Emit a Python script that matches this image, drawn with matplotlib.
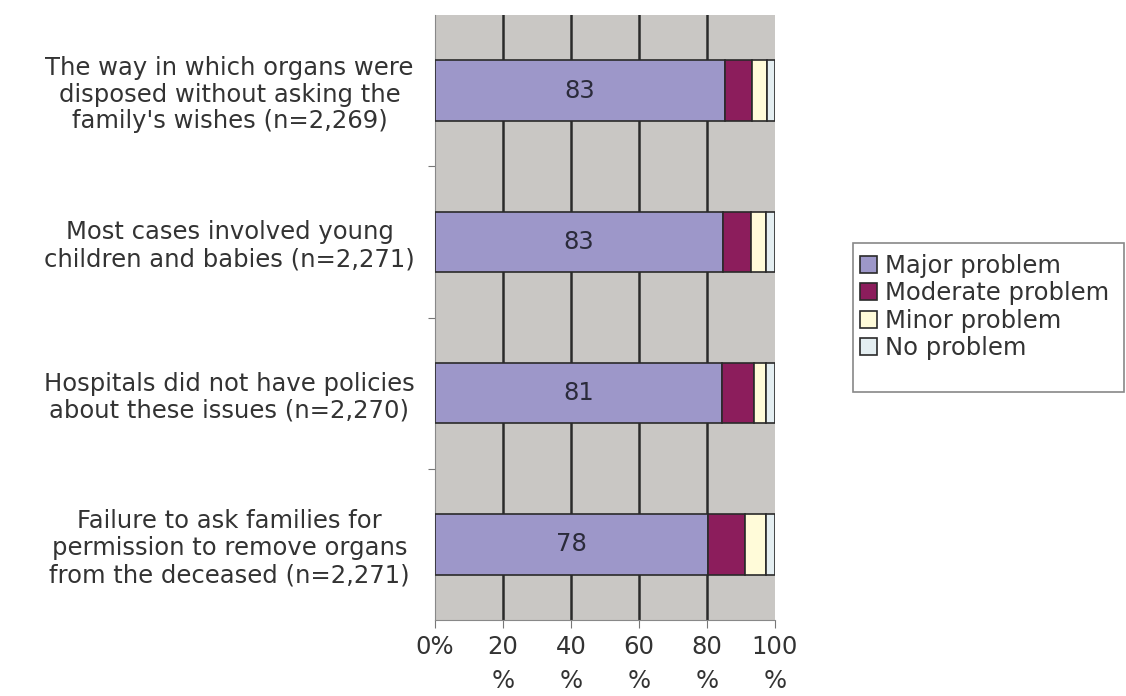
import matplotlib
matplotlib.use("Agg")
import matplotlib.pyplot as plt
from matplotlib.patches import Rectangle
import numpy as np

categories = [
    "The way in which organs were\ndisposed without asking the\nfamily's wishes (n=2,269)",
    "Most cases involved young\nchildren and babies (n=2,271)",
    "Hospitals did not have policies\nabout these issues (n=2,270)",
    "Failure to ask families for\npermission to remove organs\nfrom the deceased (n=2,271)",
]
major = [85.2, 84.6, 84.5, 80.4]
moderate = [7.9, 8.3, 9.3, 10.8]
minor = [4.6, 4.5, 3.6, 6.2]
no_problem = [2.3, 2.6, 2.6, 2.6]
major_labels = ["83", "83", "81", "78"]
series_names = ["Major problem", "Moderate problem", "Minor problem", "No problem"]
xtick_vals = [0, 20, 40, 60, 80, 100]
xtick_labels = ["0%", "20\n%", "40\n%", "60\n%", "80\n%", "100\n%"]

colors = ["#9D97C9", "#8C1D5C", "#FFFBD9", "#E4EEF1"]
FS = 17.5

fig = plt.figure(figsize=(11.26, 6.96), dpi=100)
ax = fig.add_axes([435/1126, 1-620/696, 340/1126, 605/696])
ax.set_facecolor("#C9C7C4")

y = np.arange(len(categories))
h = 0.4
left = np.zeros(len(categories))
for vals, c, name in zip([major, moderate, minor, no_problem], colors, series_names):
    ax.barh(y, vals, left=left, height=h, color=c, edgecolor="#2a2a2a",
            linewidth=1.2, label=name, zorder=3)
    left = left + np.array(vals)

for yi, v, lab in zip(y, major, major_labels):
    ax.text(v/2, yi, lab, ha="center", va="center", fontsize=FS,
            color="#2b2b3b", zorder=4)

for xv in xtick_vals[1:-1]:
    ax.axvline(xv, color="#2a2a2a", linewidth=1.8, zorder=1)

ax.set_xlim(0, 100)
ax.set_ylim(3.5, -0.5)
ax.set_xticks(xtick_vals)
ax.set_xticklabels(xtick_labels, fontsize=FS, color="#333333", linespacing=1.5)
ax.tick_params(axis="x", length=6, color="#777777", pad=5)

ax.set_yticks([0.5, 1.5, 2.5])
ax.set_yticklabels(["", "", ""])
ax.tick_params(axis="y", length=5, color="#777777")
ax.set_yticks(y, minor=True)
ax.set_yticklabels(categories, minor=True, fontsize=FS, color="#333333",
                   ha="center", linespacing=1.15)
ax.tick_params(axis="y", which="minor", length=0, pad=148)

for s in ["top", "right"]:
    ax.spines[s].set_visible(False)
ax.spines["left"].set_color("#888888")
ax.spines["bottom"].set_color("#888888")

leg = ax.legend(loc="upper left", bbox_to_anchor=(853/1126, 1-247/696),
                bbox_transform=fig.transFigure, fontsize=FS,
                frameon=False,
                handlelength=0.7, handleheight=0.7, handletextpad=0.3,
                borderpad=0.3, labelspacing=0.13, borderaxespad=0)
for t in leg.get_texts():
    t.set_color("#333333")

fig.patches.append(Rectangle((853/1126, 1-392/696), 271/1126, 149/696,
                             transform=fig.transFigure, fill=False,
                             edgecolor="#888888", linewidth=1.2))

fig.savefig("out.png", dpi=100)
